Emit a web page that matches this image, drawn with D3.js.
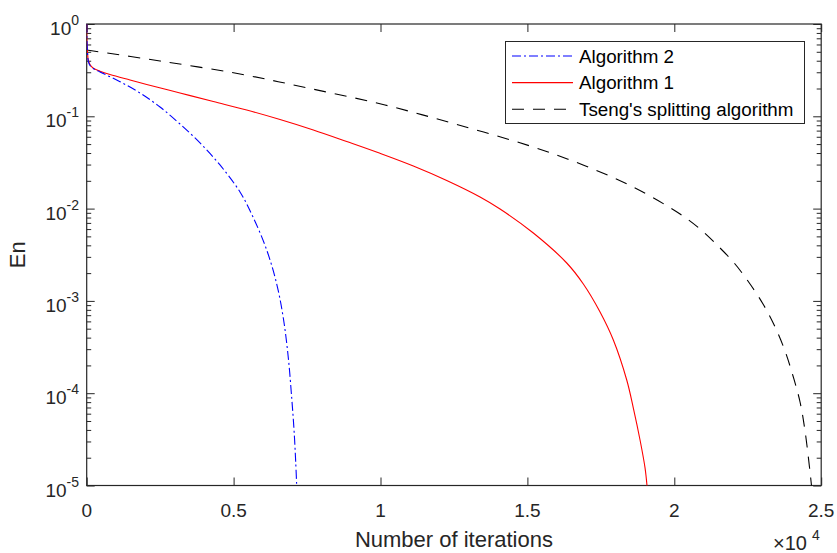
<!DOCTYPE html>
<html>
<head>
<meta charset="utf-8">
<script src="https://cdn.jsdelivr.net/npm/d3@7"></script>
<style>
  html, body { margin: 0; padding: 0; background: #fff; }
  text { font-family: "Liberation Sans", Arial, Helvetica, sans-serif; }
</style>
</head>
<body>
<svg id="chart" width="837" height="553"></svg>
<script>
// ---------------- data ----------------
const seriesNames = ["Algorithm 2", "Algorithm 1", "Tseng's splitting algorithm"];

const iterAlg2 = [0, 7, 27, 54, 112, 248, 453, 1134, 1814, 2495, 3176, 3857, 4537, 5218, 5661, 6127, 6468, 6692, 6863, 6978, 7057, 7114, 7148];
const enAlg2   = [1.0, 0.671, 0.497, 0.397, 0.355, 0.3255, 0.302, 0.237, 0.1788, 0.1261, 0.0825, 0.0514, 0.0297, 0.01513, 0.00811, 0.00356, 0.001524, 6.53e-4, 2.406e-4, 8.87e-5, 3.99e-5, 1.797e-5, 9.88e-6];

const iterAlg1 = [0, 7, 27, 54, 112, 225, 453, 793, 1474, 2042, 3176, 4310, 5446, 6580, 7714, 8850, 9984, 11118, 12254, 13388, 14069, 15202, 16339, 16904, 17473, 17925, 18381, 18606, 18834, 19004, 19072];
const enAlg1   = [1.0, 0.671, 0.497, 0.4073, 0.364, 0.3311, 0.308, 0.2837, 0.2473, 0.2211, 0.1788, 0.1446, 0.1170, 0.0923, 0.0711, 0.0533, 0.0397, 0.02894, 0.02016, 0.01336, 0.00990, 0.00544, 0.002574, 0.001524, 7.58e-4, 3.77e-4, 1.39e-4, 6.91e-5, 3.11e-5, 1.55e-5, 9.88e-6];

const iterTseng = [0, 2495, 5218, 7601, 10154, 12595, 15090, 16894, 18596, 20196, 20876, 21489, 22067, 22578, 23020, 23429, 23769, 24041, 24280, 24450, 24620, 24671];
const enTseng   = [0.5228, 0.3973, 0.2873, 0.2001, 0.1326, 0.0815, 0.0477, 0.02968, 0.01714, 0.00874, 0.00601, 0.003934, 0.002511, 0.001524, 9.26e-4, 5.22e-4, 2.866e-4, 1.536e-4, 8.03e-5, 3.90e-5, 1.40e-5, 9.88e-6];

const xTickValues = [0, 5000, 10000, 15000, 20000, 25000];
const xTickLabels = ["0", "0.5", "1", "1.5", "2", "2.5"];
const yTickExponents = [0, -1, -2, -3, -4, -5];
const xLabel = "Number of iterations";
const yLabel = "En";
const xMultiplierBase = "\u00D710";
const xMultiplierExp = "4";

// ---------------- layout ----------------
const svg = d3.select("#chart");
const L = 86.7, R = 821.2, T = 24, B = 485.5;
const axisColor = "#262626";

const x = d3.scaleLinear().domain([0, 25000]).range([L, R]);
const y = d3.scaleLog().domain([1e-5, 1]).range([B, T]);

svg.append("rect").attr("width", 837).attr("height", 553).attr("fill", "#fff");

svg.append("defs").append("clipPath").attr("id", "plotclip")
  .append("rect").attr("x", L).attr("y", T).attr("width", R - L).attr("height", B - T);

const minorY = [];
for (let e = -5; e < 0; e++) {
  for (let m = 2; m <= 9; m++) minorY.push(m * Math.pow(10, e));
}

// ---------------- axes (ticks inward, box) ----------------
const gAx = svg.append("g");
gAx.append("g").attr("transform", `translate(0,${B})`).call(d3.axisBottom(x).tickValues(xTickValues).tickSize(-8).tickFormat(""));
gAx.append("g").attr("transform", `translate(0,${T})`).call(d3.axisTop(x).tickValues(xTickValues).tickSize(-8).tickFormat(""));
const yMajor = yTickExponents.map(e => Math.pow(10, e));
gAx.append("g").attr("transform", `translate(${L},0)`).call(d3.axisLeft(y).tickValues(yMajor).tickSize(-8).tickFormat(""));
gAx.append("g").attr("transform", `translate(${R},0)`).call(d3.axisRight(y).tickValues(yMajor).tickSize(-8).tickFormat(""));
gAx.append("g").attr("transform", `translate(${L},0)`).call(d3.axisLeft(y).tickValues(minorY).tickSize(-4.5).tickFormat(""));
gAx.append("g").attr("transform", `translate(${R},0)`).call(d3.axisRight(y).tickValues(minorY).tickSize(-4.5).tickFormat(""));
gAx.selectAll(".domain").remove();
gAx.selectAll(".tick line").attr("stroke", axisColor).attr("stroke-width", 1);

svg.append("rect").attr("x", L).attr("y", T).attr("width", R - L).attr("height", B - T)
  .attr("fill", "none").attr("stroke", axisColor).attr("stroke-width", 1.2);

// tick labels
const tickFont = 19;
svg.append("g").selectAll("text").data(xTickValues).join("text")
  .attr("x", d => x(d)).attr("y", B + 31.5)
  .attr("text-anchor", "middle").attr("font-size", tickFont).attr("fill", axisColor)
  .text((d, i) => xTickLabels[i]);

const yl = svg.append("g").selectAll("text").data(yTickExponents).join("text")
  .attr("x", 79).attr("y", d => y(Math.pow(10, d)) + 11)
  .attr("text-anchor", "end").attr("font-size", tickFont).attr("fill", axisColor);
yl.append("tspan").text("10");
yl.append("tspan").attr("dy", -10).attr("font-size", 14).text(d => String(d));

const mult = svg.append("text").attr("x", 773).attr("y", 550).attr("text-anchor", "start")
  .attr("font-size", 20).attr("fill", axisColor);
mult.append("tspan").text(xMultiplierBase);
mult.append("tspan").attr("dx", 5).attr("dy", -10).attr("font-size", 14).text(xMultiplierExp);

svg.append("text").attr("x", (L + R) / 2).attr("y", 547).attr("text-anchor", "middle")
  .attr("font-size", 22).attr("fill", axisColor).text(xLabel);
svg.append("text").attr("transform", `translate(25,${(T + B) / 2}) rotate(-90)`)
  .attr("text-anchor", "middle").attr("font-size", 22).attr("fill", axisColor).text(yLabel);

// ---------------- lines ----------------
const series = [
  { name: seriesNames[0], xs: iterAlg2, ys: enAlg2, color: "#0000ff", dash: "9,3,2,3" },
  { name: seriesNames[1], xs: iterAlg1, ys: enAlg1, color: "#ff0000", dash: null },
  { name: seriesNames[2], xs: iterTseng, ys: enTseng, color: "#000000", dash: "12,9" }
];
const line = d3.line().x(d => x(d[0])).y(d => y(d[1])).curve(d3.curveCatmullRom.alpha(0.5));
const gLines = svg.append("g").attr("clip-path", "url(#plotclip)");
[2, 1, 0].forEach(i => {
  const s = series[i];
  gLines.append("path")
    .datum(s.xs.map((v, k) => [v, s.ys[k]]))
    .attr("d", line).attr("fill", "none").attr("stroke", s.color).attr("stroke-width", 1.1)
    .attr("stroke-dasharray", s.dash);
});

// ---------------- legend ----------------
const lg = svg.append("g");
lg.append("rect").attr("x", 505.5).attr("y", 41.5).attr("width", 299).attr("height", 82)
  .attr("fill", "#fff").attr("stroke", axisColor).attr("stroke-width", 1);
series.forEach((s, i) => {
  const yy = 56 + i * 26.6;
  lg.append("line").attr("x1", 512).attr("x2", 573).attr("y1", yy).attr("y2", yy)
    .attr("stroke", s.color).attr("stroke-width", 1.1).attr("stroke-dasharray", s.dash);
  lg.append("text").attr("x", 579).attr("y", yy + 6.5).attr("font-size", 18.8)
    .attr("fill", "#000").text(s.name);
});
</script>
</body>
</html>
